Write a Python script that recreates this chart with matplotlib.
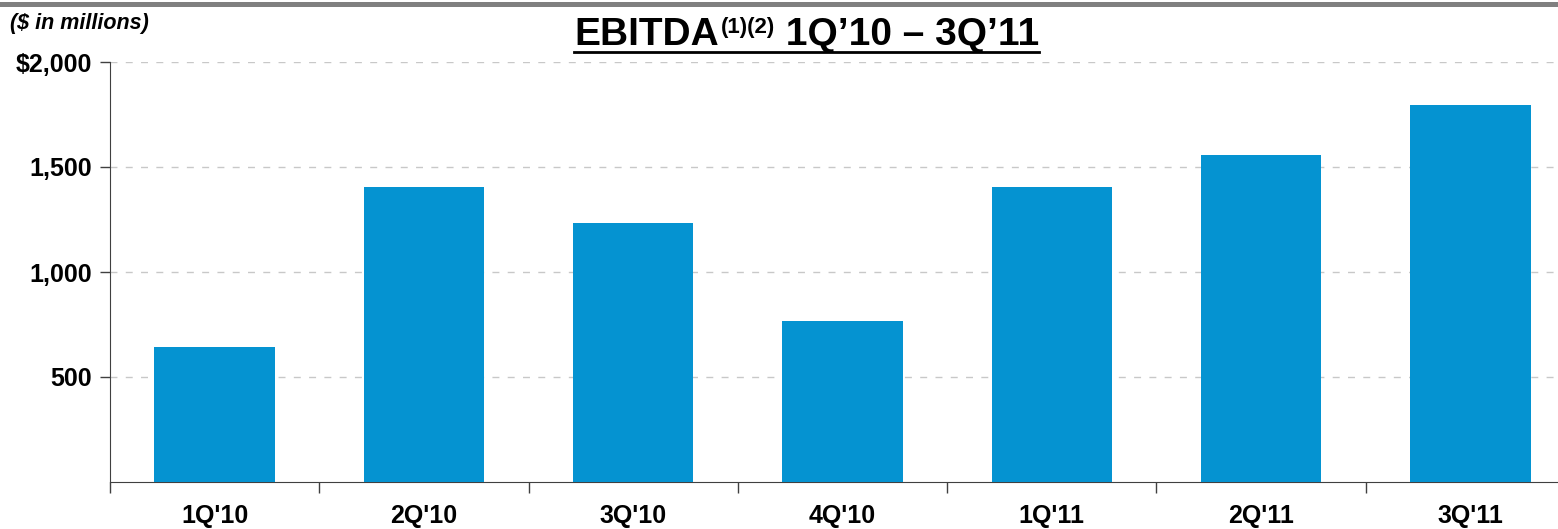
import matplotlib
matplotlib.use("Agg")
import matplotlib.pyplot as plt
from matplotlib.patches import Rectangle
from matplotlib.lines import Line2D

# EBITDA by quarter ($ in millions)
quarters = ["1Q'10", "2Q'10", "3Q'10", "4Q'10", "1Q'11", "2Q'11", "3Q'11"]
ebitda = [643, 1405, 1233, 767, 1405, 1557, 1795]
ytick_vals = [500, 1000, 1500, 2000]
ytick_labels = ["500", "1,000", "1,500", "$2,000"]

plt.rcParams['font.family'] = ['Liberation Sans', 'DejaVu Sans']

W, H = 1558, 529
fig = plt.figure(figsize=(W / 100, H / 100), dpi=100)
ax = fig.add_axes([110 / W, 47 / H, 1465 / W, 420 / H])

x = list(range(len(quarters)))
ax.bar(x, ebitda, width=0.575, color='#0593D1', zorder=3)

ax.set_xlim(-0.5, len(quarters) - 0.5)
ax.set_ylim(0, 2000)

ax.set_yticks(ytick_vals)
ax.set_yticklabels(ytick_labels, fontsize=18, fontweight='bold')
ax.yaxis.grid(True, linestyle=(0, (5, 6)), color='#c8c8c8', linewidth=1, zorder=0)

# category labels at centers, tick marks at boundaries
ax.set_xticks(x)
ax.set_xticklabels(quarters, fontsize=18, fontweight='bold')
ax.set_xticks([i - 0.5 for i in range(len(quarters) + 1)], minor=True)
ax.tick_params(axis='x', which='major', length=0, pad=16)
ax.tick_params(axis='x', which='minor', length=8, width=1, color='#404040')
ax.tick_params(axis='y', length=7, width=1, color='#404040', pad=6)

for side in ['top', 'right']:
    ax.spines[side].set_visible(False)
ax.spines['left'].set_color('#404040')
ax.spines['bottom'].set_color('#404040')

# grey band across the top
fig.add_artist(Rectangle((0, 1 - 7 / H), 1, 5 / H, transform=fig.transFigure,
                         color='#808080', lw=0))

fig.text(10 / W, 1 - 24 / H, "($ in millions)", fontsize=15.5, fontweight='bold',
         fontstyle='italic', va='center', ha='left')

# title built from pieces so the superscript can be smaller
renderer = fig.canvas.get_renderer()
base_y = 1 - 45 / H
t1 = fig.text(574 / W, base_y, "EBITDA", fontsize=28, fontweight='bold',
              ha='left', va='baseline')
bb = t1.get_window_extent(renderer=renderer)
t2 = fig.text((bb.x1 + 2) / W, 1 - 33 / H, "(1)(2)", fontsize=16, fontweight='bold',
              ha='left', va='baseline')
bb = t2.get_window_extent(renderer=renderer)
t3 = fig.text(bb.x1 / W, base_y, " 1Q\u201910 \u2013 3Q\u201911", fontsize=28,
              fontweight='bold', ha='left', va='baseline')
bb = t3.get_window_extent(renderer=renderer)

# underline the title
fig.add_artist(Line2D([574 / W, bb.x1 / W], [1 - 52 / H, 1 - 52 / H],
                      transform=fig.transFigure, color='black', lw=2))

fig.savefig("out.png", dpi=100)
